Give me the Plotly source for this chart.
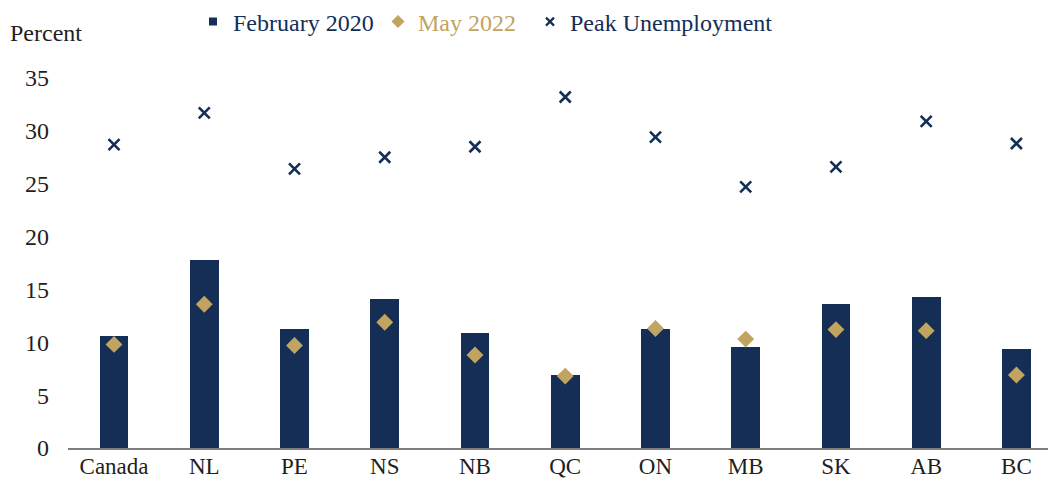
import plotly.graph_objects as go

categories = ["Canada", "NL", "PE", "NS", "NB", "QC", "ON", "MB", "SK", "AB", "BC"]
feb_2020 = [10.6, 17.8, 11.3, 14.1, 10.9, 6.9, 11.3, 9.6, 13.6, 14.3, 9.4]
may_2022 = [9.8, 13.6, 9.7, 11.9, 8.8, 6.8, 11.3, 10.3, 11.2, 11.1, 6.9]
peak_unemp = [28.7, 31.7, 26.4, 27.5, 28.5, 33.2, 29.4, 24.7, 26.6, 30.9, 28.8]
y_ticks = [0, 5, 10, 15, 20, 25, 30, 35]

NAVY = "#142e56"
GOLD = "#c1a45f"
TEXT = "#1f1f1f"
FONT = "Liberation Serif"
FS = 24

PLOT_L, PLOT_W, PLOT_T, PLOT_H = 68, 980, 78, 370


def px_x(px):
    return (px - PLOT_L) / PLOT_W


def px_y(py):
    return 1 + (PLOT_T - py) / PLOT_H


fig = go.Figure()
# data traces (legend entries drawn by small proxy markers below)
fig.add_trace(go.Bar(
    x=categories, y=feb_2020, width=0.32,
    marker=dict(color=NAVY, line=dict(width=0)),
    name="February 2020", showlegend=False,
))
fig.add_trace(go.Scatter(
    x=categories, y=may_2022, mode="markers",
    marker=dict(symbol="diamond", size=13, color=GOLD),
    name="May 2022", showlegend=False,
))
fig.add_trace(go.Scatter(
    x=categories, y=peak_unemp, mode="markers",
    marker=dict(symbol="x-thin", size=11, color=NAVY, line=dict(width=2.6, color=NAVY)),
    name="Peak Unemployment", showlegend=False,
))

# legend proxies
fig.add_trace(go.Scatter(
    x=[None], y=[None], mode="markers", name="February 2020",
    marker=dict(symbol="square", size=8, color=NAVY), legend="legend",
))
fig.add_trace(go.Scatter(
    x=[None], y=[None], mode="markers", name="May 2022",
    marker=dict(symbol="diamond", size=10, color=GOLD), legend="legend2",
))
fig.add_trace(go.Scatter(
    x=[None], y=[None], mode="markers", name="Peak Unemployment",
    marker=dict(symbol="x-thin", size=8, color=NAVY, line=dict(width=2.2, color=NAVY)),
    legend="legend3",
))

leg_common = dict(orientation="h", yanchor="middle", xanchor="left",
                  bgcolor="rgba(0,0,0,0)", itemwidth=30)
fig.update_layout(
    width=1048, height=480,
    margin=dict(l=PLOT_L, r=0, t=PLOT_T, b=32, autoexpand=False),
    paper_bgcolor="white", plot_bgcolor="white",
    font=dict(family=FONT, size=FS, color=TEXT),
    showlegend=True,
    legend=dict(x=px_x(214 - 21), y=px_y(22), font=dict(family=FONT, size=FS, color=NAVY), **leg_common),
    legend2=dict(x=px_x(399 - 21), y=px_y(22), font=dict(family=FONT, size=FS, color=GOLD), **leg_common),
    legend3=dict(x=px_x(551 - 21), y=px_y(22), font=dict(family=FONT, size=FS, color=NAVY), **leg_common),
    xaxis=dict(
        type="category", range=[-0.51, 10.35], automargin=False,
        showline=True, linecolor="#7f7f7f", linewidth=2,
        ticks="", showgrid=False, zeroline=False, ticklabelstandoff=-4,
        tickfont=dict(family=FONT, size=FS - 1, color=TEXT),
    ),
    yaxis=dict(
        range=[0, 35], tickvals=y_ticks, showgrid=False, zeroline=False,
        showline=False, ticks="", ticklabelstandoff=18, automargin=False,
        tickfont=dict(family=FONT, size=FS, color=TEXT),
    ),
    annotations=[dict(
        text="Percent", xref="paper", yref="paper",
        x=px_x(8), y=px_y(33), xanchor="left", yanchor="middle",
        showarrow=False, font=dict(family=FONT, size=FS, color=TEXT),
    )],
    bargap=0,
)

fig.write_html("out.html")
